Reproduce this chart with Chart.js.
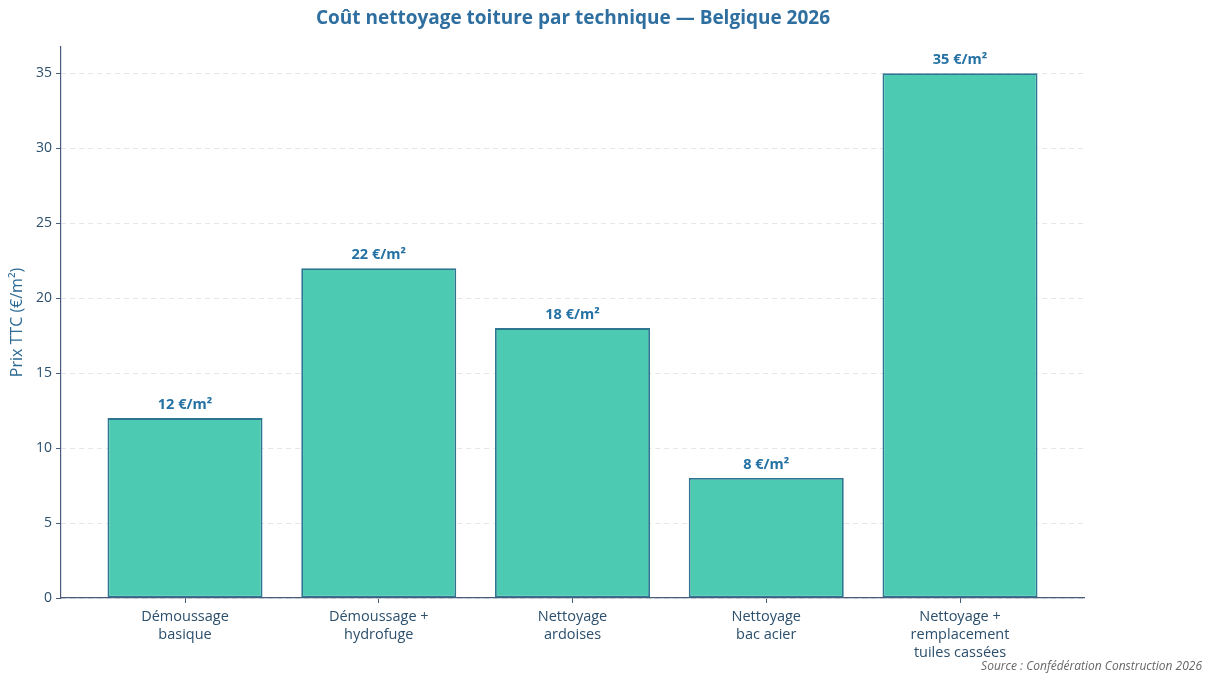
<!DOCTYPE html>
<html>
<head>
<meta charset="utf-8">
<script src="https://cdn.jsdelivr.net/npm/chart.js@4"></script>
<style>
  html, body { margin: 0; padding: 0; background: #fff; }
  #wrap { width: 1214px; height: 683px; position: relative; }
</style>
</head>
<body>
<div id="wrap"><canvas id="roofChart"></canvas></div>
<script>
// ---- data ----
const categories = [
    "Démoussage\nbasique",
    "Démoussage +\nhydrofuge",
    "Nettoyage\nardoises",
    "Nettoyage\nbac acier",
    "Nettoyage +\nremplacement\ntuiles cassées"
];
const prices = [12, 22, 18, 8, 35];
const priceLabels = ["12 €/m²", "22 €/m²", "18 €/m²", "8 €/m²", "35 €/m²"];
const yTicks = [0, 5, 10, 15, 20, 25, 30, 35];

const titleText = "Coût nettoyage toiture par technique — Belgique 2026";
const sourceText = "Source : Confédération Construction 2026";
const FONT = "'Open Sans', 'Noto Sans', sans-serif";

// title, source and value labels
const decorations = {
    id: "decorations",
    afterDatasetsDraw(chart) {
        const ctx = chart.ctx;
        const meta = chart.getDatasetMeta(0);
        ctx.save();
        ctx.textAlign = "center";
        ctx.textBaseline = "middle";
        ctx.fillStyle = "#2471a3";
        ctx.font = "bold 14.5px " + FONT;
        meta.data.forEach((bar, i) => {
            ctx.fillText(priceLabels[i], bar.x, bar.y - 13);
        });

        ctx.fillStyle = "#2e6fa0";
        ctx.font = "bold 19px " + FONT;
        ctx.fillText(titleText, 573, 19);

        ctx.textAlign = "right";
        ctx.fillStyle = "#666";
        ctx.font = "italic 12px " + FONT;
        ctx.fillText(sourceText, 1202, 667);
        ctx.restore();
    }
};

const chart = new Chart(document.getElementById("roofChart"), {
    type: "bar",
    data: {
        datasets: [{
            data: prices.map((v, i) => ({ x: i, y: v })),
            backgroundColor: "rgba(72,201,176,0.98)",
            borderColor: "#2d7591",
            borderWidth: 1.8,
            borderSkipped: false,
            categoryPercentage: 1,
            barPercentage: 0.8
        }]
    },
    options: {
        responsive: true,
        maintainAspectRatio: false,
        animation: false,
        layout: { padding: { top: 47, right: 130, left: 0, bottom: 0 } },
        plugins: {
            legend: { display: false },
            tooltip: { enabled: false }
        },
        scales: {
            x: {
                type: "linear",
                offset: false,
                min: -0.64,
                max: 4.64,
                afterBuildTicks(scale) {
                    scale.ticks = categories.map((c, i) => ({ value: i }));
                },
                afterFit(scale) { scale.height = 85; },
                ticks: {
                    autoSkip: false,
                    maxRotation: 0,
                    color: "#2b4f6c",
                    font: { family: FONT, size: 14.5, lineHeight: 1.25 },
                    padding: 5,
                    callback: v => categories[v] ? categories[v].split("\n") : ""
                },
                grid: {
                    offset: false,
                    drawOnChartArea: false,
                    drawTicks: true,
                    tickLength: 5,
                    tickColor: "#4a5a7a"
                },
                border: { color: "#4a5a7a", width: 1.2 }
            },
            y: {
                min: 0,
                max: 36.75,
                afterBuildTicks(scale) {
                    scale.ticks = yTicks.map(v => ({ value: v }));
                },
                afterFit(scale) { scale.width = 61; },
                title: {
                    display: true,
                    text: "Prix TTC (€/m²)",
                    color: "#2c6a94",
                    font: { family: FONT, size: 16 },
                    padding: { top: 8, bottom: 0 }
                },
                ticks: {
                    color: "#2b4f6c",
                    font: { family: FONT, size: 14 },
                    padding: 4
                },
                grid: {
                    color: "#e6e6e6",
                    lineWidth: 1,
                    tickLength: 5,
                    tickColor: "#4a5a7a",
                    tickBorderDash: []
                },
                border: { color: "#4a5a7a", width: 1.2, dash: [5, 4] }
            }
        }
    },
    plugins: [decorations]
});
</script>
</body>
</html>
